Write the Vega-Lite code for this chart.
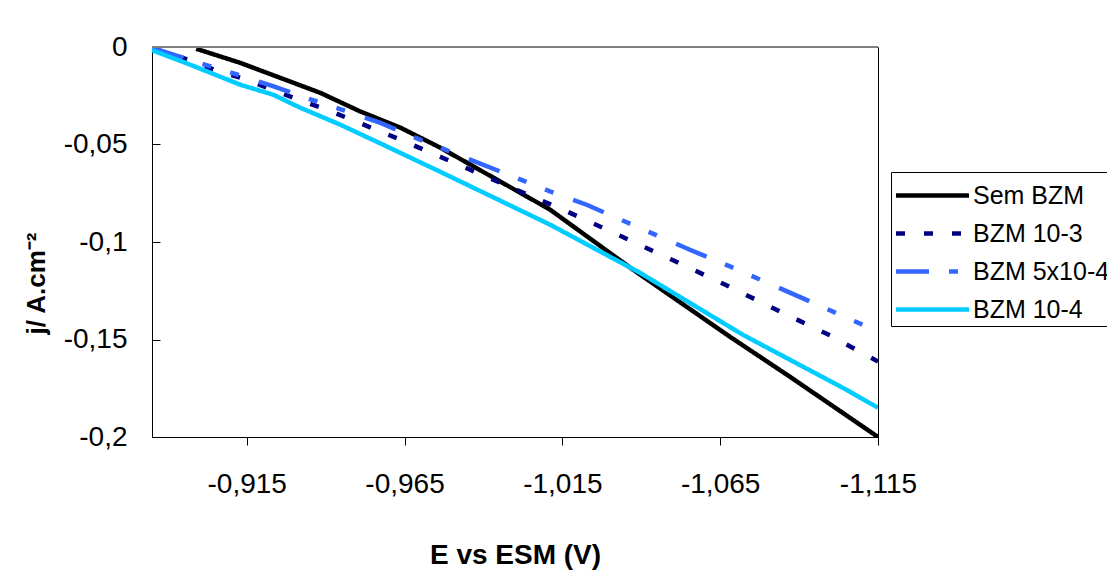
{
  "$schema": "https://vega.github.io/schema/vega-lite/v6.json",
  "width": 726,
  "height": 390,
  "autosize": "none",
  "padding": {"left": 152, "top": 47, "right": 229, "bottom": 136},
  "background": "white",
  "config": {
    "view": {"stroke": "#000", "strokeWidth": 1},
    "font": "Liberation Sans"
  },
  "data": {
    "values": [
      {"series": "Sem BZM", "E": -0.899, "j": -0.0009},
      {"series": "Sem BZM", "E": -0.9129, "j": -0.0081},
      {"series": "Sem BZM", "E": -0.9256, "j": -0.0158},
      {"series": "Sem BZM", "E": -0.9383, "j": -0.0235},
      {"series": "Sem BZM", "E": -0.9509, "j": -0.033},
      {"series": "Sem BZM", "E": -0.9636, "j": -0.0413},
      {"series": "Sem BZM", "E": -0.9763, "j": -0.0516},
      {"series": "Sem BZM", "E": -1.0111, "j": -0.0834},
      {"series": "Sem BZM", "E": -1.0374, "j": -0.1142},
      {"series": "Sem BZM", "E": -1.0681, "j": -0.1486},
      {"series": "Sem BZM", "E": -1.0871, "j": -0.1691},
      {"series": "Sem BZM", "E": -1.115, "j": -0.2},

      {"series": "BZM 10-3", "E": -0.885, "j": -0.0004},
      {"series": "BZM 10-3", "E": -0.897, "j": -0.0068},
      {"series": "BZM 10-3", "E": -0.9055, "j": -0.0121},
      {"series": "BZM 10-3", "E": -0.9138, "j": -0.0162},
      {"series": "BZM 10-3", "E": -0.9229, "j": -0.0218},
      {"series": "BZM 10-3", "E": -0.9313, "j": -0.027},
      {"series": "BZM 10-3", "E": -0.9403, "j": -0.0321},
      {"series": "BZM 10-3", "E": -0.9487, "j": -0.0376},
      {"series": "BZM 10-3", "E": -0.9572, "j": -0.0432},
      {"series": "BZM 10-3", "E": -0.9657, "j": -0.0489},
      {"series": "BZM 10-3", "E": -0.974, "j": -0.0547},
      {"series": "BZM 10-3", "E": -1.0164, "j": -0.0843},
      {"series": "BZM 10-3", "E": -1.0333, "j": -0.0968},
      {"series": "BZM 10-3", "E": -1.0501, "j": -0.1094},
      {"series": "BZM 10-3", "E": -1.0666, "j": -0.1219},
      {"series": "BZM 10-3", "E": -1.0833, "j": -0.1351},
      {"series": "BZM 10-3", "E": -1.0998, "j": -0.1479},
      {"series": "BZM 10-3", "E": -1.115, "j": -0.1613},

      {"series": "BZM 5x10-4", "E": -0.885, "j": -0.0004},
      {"series": "BZM 5x10-4", "E": -0.9027, "j": -0.0095},
      {"series": "BZM 5x10-4", "E": -0.9119, "j": -0.0141},
      {"series": "BZM 5x10-4", "E": -0.9233, "j": -0.0201},
      {"series": "BZM 5x10-4", "E": -0.936, "j": -0.0273},
      {"series": "BZM 5x10-4", "E": -0.9451, "j": -0.0321},
      {"series": "BZM 5x10-4", "E": -0.9572, "j": -0.0388},
      {"series": "BZM 5x10-4", "E": -0.9699, "j": -0.0475},
      {"series": "BZM 5x10-4", "E": -1.0111, "j": -0.074},
      {"series": "BZM 5x10-4", "E": -1.0227, "j": -0.0809},
      {"series": "BZM 5x10-4", "E": -1.0354, "j": -0.0899},
      {"series": "BZM 5x10-4", "E": -1.0554, "j": -0.104},
      {"series": "BZM 5x10-4", "E": -1.0681, "j": -0.1125},
      {"series": "BZM 5x10-4", "E": -1.0887, "j": -0.1271},
      {"series": "BZM 5x10-4", "E": -1.1087, "j": -0.1414},
      {"series": "BZM 5x10-4", "E": -1.115, "j": -0.1458},

      {"series": "BZM 10-4", "E": -0.885, "j": -0.0016},
      {"series": "BZM 10-4", "E": -0.897, "j": -0.009},
      {"series": "BZM 10-4", "E": -0.9129, "j": -0.0193},
      {"series": "BZM 10-4", "E": -0.9233, "j": -0.0244},
      {"series": "BZM 10-4", "E": -0.9319, "j": -0.0311},
      {"series": "BZM 10-4", "E": -0.9446, "j": -0.0398},
      {"series": "BZM 10-4", "E": -0.9582, "j": -0.0501},
      {"series": "BZM 10-4", "E": -0.9762, "j": -0.0639},
      {"series": "BZM 10-4", "E": -1.0111, "j": -0.0911},
      {"series": "BZM 10-4", "E": -1.0396, "j": -0.1158},
      {"series": "BZM 10-4", "E": -1.0722, "j": -0.1476},
      {"series": "BZM 10-4", "E": -1.1039, "j": -0.1748},
      {"series": "BZM 10-4", "E": -1.115, "j": -0.185}
    ]
  },
  "layer": [
    {
      "mark": {"type": "line", "strokeWidth": 4.5, "clip": true},
      "encoding": {
        "x": {
          "field": "E",
          "type": "quantitative",
          "scale": {"domain": [-1.115, -0.885], "reverse": true, "nice": false, "zero": false},
          "axis": {
            "values": [-0.915, -0.965, -1.015, -1.065, -1.115],
            "labelExpr": "replace(toString(datum.value), '.', ',')",
            "title": "E vs ESM (V)",
            "titleFont": "Liberation Sans",
            "titleFontSize": 28,
            "titleFontWeight": "bold",
            "titleColor": "#000",
            "titleBaseline": "alphabetic",
            "titleY": 126,
            "labelFontSize": 28,
            "labelColor": "#000",
            "labelBaseline": "alphabetic",
            "labelPadding": 47,
            "tickSize": 8,
            "tickColor": "#000",
            "domainColor": "#000",
            "grid": false,
            "labelFlush": false
          }
        },
        "y": {
          "field": "j",
          "type": "quantitative",
          "scale": {"domain": [-0.2, 0], "nice": false, "zero": false},
          "axis": {
            "values": [0, -0.05, -0.1, -0.15, -0.2],
            "labelExpr": "replace(toString(datum.value), '.', ',')",
            "title": "j/ A.cm⁻²",
            "titleFont": "Liberation Sans",
            "titleFontSize": 26,
            "titleFontWeight": "bold",
            "titleColor": "#000",
            "titleAngle": 270,
            "titleAlign": "center",
            "titleBaseline": "alphabetic",
            "titleX": -108,
            "titleY": 236,
            "labelFontSize": 28,
            "labelColor": "#000",
            "labelPadding": 33,
            "tickSize": -8,
            "tickColor": "#000",
            "domainColor": "#000",
            "grid": false,
            "labelFlush": false
          }
        },
        "color": {
          "field": "series",
          "type": "nominal",
          "scale": {
            "domain": ["Sem BZM", "BZM 10-3", "BZM 5x10-4", "BZM 10-4"],
            "range": ["#000000", "#000080", "#3366FF", "#00CCFF"]
          },
          "legend": {
            "title": null,
            "orient": "none",
            "legendX": 739,
            "legendY": 125,
            "strokeColor": "#000",
            "fillColor": "#fff",
            "padding": 3,
            "symbolType": "M-2,0H2",
            "symbolSize": 1332,
            "symbolOffset": 18,
            "symbolStrokeWidth": 4.5,
            "labelFontSize": 25,
            "labelColor": "#000",
            "labelOffset": 20,
            "rowPadding": 4,
            "labelLimit": 400
          }
        },
        "strokeDash": {
          "field": "series",
          "type": "nominal",
          "scale": {
            "domain": ["Sem BZM", "BZM 10-3", "BZM 5x10-4", "BZM 10-4"],
            "range": [[1, 0], [9, 19], [33, 20, 9, 20, 9, 21], [1, 0]]
          },
          "legend": null
        }
      }
    },
    {
      "data": {"values": [{"j": 0}]},
      "mark": {"type": "rule", "color": "#808080", "strokeWidth": 2},
      "encoding": {"y": {"field": "j", "type": "quantitative"}}
    }
  ]
}
